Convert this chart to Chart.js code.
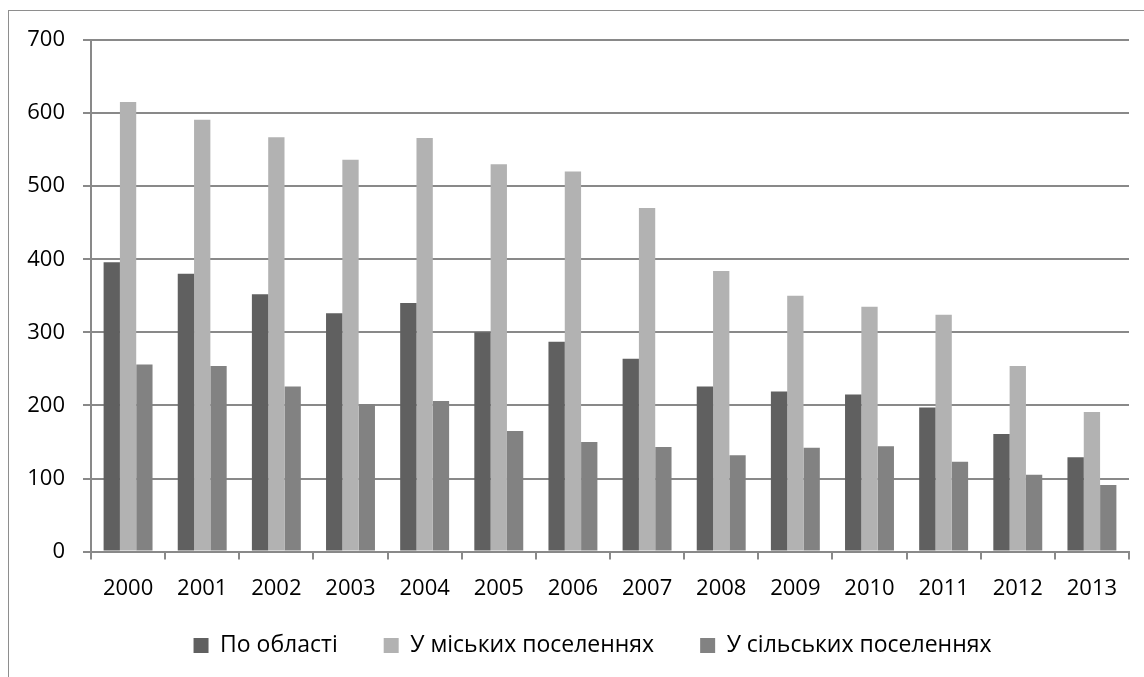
<!DOCTYPE html>
<html>
<head>
<meta charset="utf-8">
<script src="https://cdn.jsdelivr.net/npm/chart.js@4.4.0/dist/chart.umd.min.js"></script>
<style>
  html, body { margin: 0; padding: 0; background: #fff; }
  body { width: 1144px; height: 677px; position: relative; overflow: hidden; }
  #frame { position: absolute; left: 8px; top: 10px; width: 1200px; height: 700px; border-left: 1px solid #8e8e8e; border-top: 1px solid #8e8e8e; box-sizing: border-box; }
  #wrap { position: absolute; left: 0; top: 0; width: 1144px; height: 677px; }
</style>
</head>
<body>
<div id="frame"></div>
<div id="wrap"><canvas id="c" width="1144" height="677"></canvas></div>
<script>
const years = ['2000','2001','2002','2003','2004','2005','2006','2007','2008','2009','2010','2011','2012','2013'];
const seriesNames = ['По області', 'У міських поселеннях', 'У сільських поселеннях'];
const oblast = [396, 380, 352, 326, 340, 300, 287, 264, 226, 219, 215, 197, 161, 129];
const urban  = [615, 591, 567, 536, 566, 530, 520, 470, 384, 350, 335, 324, 254, 191];
const rural  = [256, 254, 226, 202, 206, 165, 150, 143, 132, 142, 144, 123, 105, 91];
const yTicks = [0, 100, 200, 300, 400, 500, 600, 700];

const gridColor = '#898989';
const fontFamily = '"Open Sans", sans-serif';

// Legend layout tweak: shrink legend box height and move it back up/right so
// the plot area extends lower while legend items keep their position.
const LEGEND_SHRINK = 34;
const LEGEND_SHIFT_Y = 30;
const LEGEND_SHIFT_X = 28;
const legendTweak = {
  id: 'legendTweak',
  afterInit(chart) {
    const lg = chart.legend;
    if (!lg) return;
    const fit = lg.fit;
    lg.fit = function () { fit.call(this); this.height -= LEGEND_SHRINK; };
    lg.draw = function () { if (this.options.display) this._draw(); };
  },
  afterLayout(chart) {
    const lg = chart.legend;
    if (!lg) return;
    lg.top -= LEGEND_SHIFT_Y; lg.bottom -= LEGEND_SHIFT_Y;
    lg.left += LEGEND_SHIFT_X; lg.right += LEGEND_SHIFT_X;
  }
};

new Chart(document.getElementById('c'), {
  type: 'bar',
  data: {
    labels: years,
    datasets: [
      { label: seriesNames[0], data: oblast, backgroundColor: '#606060' },
      { label: seriesNames[1], data: urban,  backgroundColor: '#b2b2b2' },
      { label: seriesNames[2], data: rural,  backgroundColor: '#828282' }
    ]
  },
  plugins: [legendTweak],
  options: {
    responsive: false,
    animation: false,
    devicePixelRatio: 1,
    layout: { padding: { left: 0, right: 15, top: 40, bottom: 14 } },
    datasets: { bar: { categoryPercentage: 0.66, barPercentage: 1.0 } },
    plugins: {
      tooltip: { enabled: false },
      legend: {
        position: 'bottom',
        labels: {
          font: { family: fontFamily, size: 23 },
          color: '#000',
          boxWidth: 15,
          boxHeight: 15,
          padding: 46
        }
      }
    },
    scales: {
      x: {
        grid: { offset: true, drawOnChartArea: false, color: gridColor, lineWidth: 2, tickLength: 8 },
        border: { color: gridColor, width: 2 },
        ticks: { font: { family: fontFamily, size: 22 }, color: '#000', padding: 16, maxRotation: 0 }
      },
      y: {
        min: 0, max: 700,
        afterBuildTicks: (s) => { s.ticks = yTicks.map(v => ({ value: v })); },
        afterFit: (s) => { s.width = 91; },
        grid: { color: gridColor, lineWidth: 2, tickLength: 8 },
        border: { color: gridColor, width: 2 },
        ticks: { font: { family: fontFamily, size: 22 }, color: '#000', padding: 18 }
      }
    }
  }
});
</script>
</body>
</html>
